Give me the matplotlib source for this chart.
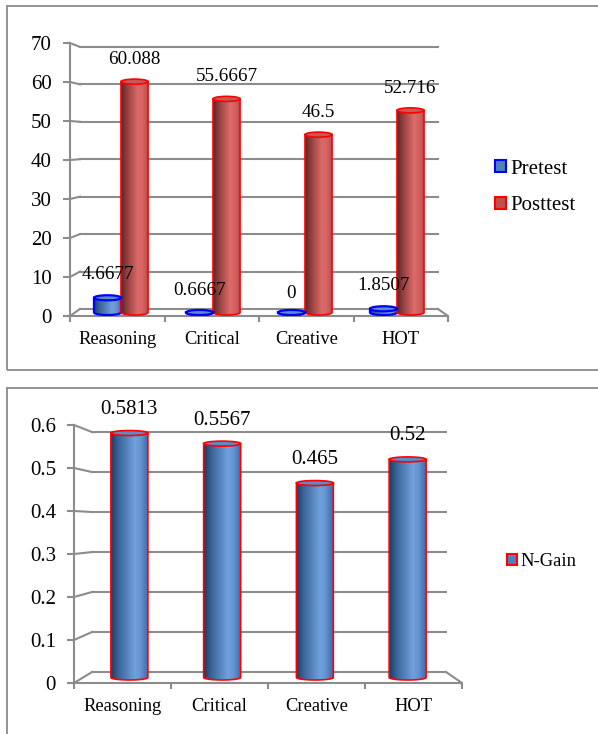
import numpy as np
import matplotlib
matplotlib.use("Agg")
import matplotlib.pyplot as plt
from matplotlib.patches import Rectangle, Ellipse, PathPatch, Patch
from matplotlib.path import Path
from matplotlib.colors import LinearSegmentedColormap

plt.rcParams['font.family'] = ['Liberation Serif', 'DejaVu Serif']

categories = ['Reasoning', 'Critical', 'Creative', 'HOT']
pretest = [4.6677, 0.6667, 0, 1.8507]
posttest = [60.088, 55.6667, 46.5, 52.716]
ngain = [0.5813, 0.5567, 0.465, 0.52]

W, H = 598, 734
fig = plt.figure(figsize=(W / 100, H / 100), dpi=100)

GRID = '#8c8c8c'
GLW = 1.5

red_cmap = LinearSegmentedColormap.from_list('red_cyl', [
    (0, '#5a2424'), (0.18, '#8c3b3b'), (0.6, '#dc6a6a'), (0.78, '#d66262'), (1, '#b44a4a')])
blue_cmap = LinearSegmentedColormap.from_list('blue_cyl', [
    (0, '#1f3a60'), (0.2, '#3a6498'), (0.65, '#70a0dc'), (0.8, '#6494d2'), (1, '#3f6ca8')])


def frac(x0, y0, x1, y1):
    # pixel box (top-left origin) -> figure fraction rect
    return [x0 / W, 1 - y1 / H, (x1 - x0) / W, (y1 - y0) / H]


# outer frames
for y0, y1 in [(6, 370), (388, 760)]:
    fig.patches.append(Rectangle((7 / W, 1 - y1 / H), (620 - 7) / W, (y1 - y0) / H,
                                 transform=fig.transFigure, facecolor='none',
                                 edgecolor='#8a8a8a', lw=1.3, zorder=-10))


def cylinders(ax, xs, values, width, base, eh, cmap, edge, top_color, lw):
    vals = np.maximum(np.asarray(values, float), base)
    bars = ax.bar(xs, vals - base, bottom=base, width=width, facecolor='none',
                  edgecolor='none', linewidth=0, zorder=3)
    grad = np.linspace(0, 1, 256).reshape(1, -1)
    t = np.linspace(np.pi, 2 * np.pi, 40)
    for b in bars:
        x0, w = b.get_x(), b.get_width()
        top = b.get_y() + b.get_height()
        xc = x0 + w / 2
        verts = [(x0, top), (x0, base)]
        verts += list(zip(xc + w / 2 * np.cos(t), base + eh / 2 * np.sin(t)))
        verts += [(x0 + w, base), (x0 + w, top), (x0, top)]
        body = PathPatch(Path(verts, closed=True), facecolor='none', edgecolor=edge,
                         lw=lw, zorder=4)
        ax.add_patch(body)
        im = ax.imshow(grad, extent=(x0, x0 + w, base - eh, top), aspect='auto',
                       cmap=cmap, interpolation='bilinear', zorder=3.5)
        im.set_clip_path(body)
        ax.add_patch(Ellipse((xc, top), w, eh, facecolor=top_color, edgecolor=edge,
                             lw=lw, zorder=4.5))


def frame3d(ax, ticks, bx0, bx1, back):
    x_lo, x_hi = -0.5, 3.5
    for v in ticks:
        ax.plot([bx0, bx1], [back(v), back(v)], color=GRID, lw=GLW, zorder=1)
        ax.plot([x_lo, bx0], [v, back(v)], color=GRID, lw=GLW, zorder=1, clip_on=False)
    ax.plot([bx1, x_hi], [back(0), 0], color=GRID, lw=GLW, zorder=1)
    ax.set_xlim(x_lo, x_hi)
    for s in ['top', 'right']:
        ax.spines[s].set_visible(False)
    for s in ['left', 'bottom']:
        ax.spines[s].set_color(GRID)
        ax.spines[s].set_linewidth(GLW)
    ax.set_xticks(range(4))
    ax.set_xticklabels(categories, fontsize=13.3)
    ax.set_xticks(np.arange(-0.5, 4, 1), minor=True)
    ax.tick_params(axis='x', which='major', length=0, pad=11)
    ax.tick_params(axis='x', which='minor', length=4, width=GLW, color=GRID)
    ax.tick_params(axis='y', length=5, width=GLW, color=GRID, labelsize=15, pad=8)
    ax.set_yticks(ticks)
    ax.patch.set_alpha(0)


def mid_x(i, bx0, bx1):
    back_c = bx0 + (i + 0.5) * (bx1 - bx0) / 4
    return (i + back_c) / 2


# ---- top chart: pretest / posttest ----
ax1 = fig.add_axes(frac(70, 43, 448, 316))
ax1.set_ylim(0, 70)
bx0, bx1 = -0.394, 3.394
back1 = lambda v: 1.8 + 0.96 * v
frame3d(ax1, list(range(0, 80, 10)), bx0, bx1, back1)
ax1.set_yticklabels([str(v) for v in range(0, 80, 10)])

xm = np.array([mid_x(i, bx0, bx1) for i in range(4)])
w1 = 0.286
base1 = back1(0) / 2
cylinders(ax1, xm - w1 / 2, pretest, w1, base1, 1.3, blue_cmap, '#0000ff', '#5b8bc8', 1.6)
cylinders(ax1, xm + w1 / 2, posttest, w1, base1, 1.3, red_cmap, '#ff0000', '#c65a58', 1.2)
ax1.set_xlim(-0.5, 3.5)
ax1.set_ylim(0, 70)

for x, v in zip(xm - w1 / 2, pretest):
    ax1.annotate(f'{v:g}', (x, v), xytext=(0, 16.5), textcoords='offset points',
                 ha='center', va='center', fontsize=13.7, zorder=6)
for x, v in zip(xm + w1 / 2, posttest):
    ax1.annotate(f'{v:g}', (x, v), xytext=(0, 16), textcoords='offset points',
                 ha='center', va='center', fontsize=13.7, zorder=6)

fig.legend(handles=[Patch(facecolor='#4f81bd', edgecolor='#0000ff', lw=1.5, label='Pretest'),
                    Patch(facecolor='#c0504d', edgecolor='#ff0000', lw=1.5, label='Posttest')],
           loc='center left', bbox_to_anchor=(495 / W, 1 - 187.5 / H), frameon=False,
           borderpad=0, borderaxespad=0, handlelength=0.53, handleheight=0.53,
           handletextpad=0.2, labelspacing=0.85, fontsize=15)

# ---- bottom chart: N-Gain ----
ax2 = fig.add_axes(frac(74, 425, 462, 683))
ax2.set_ylim(0, 0.6)
bx0, bx1 = -0.314, 3.335
back2 = lambda v: 0.0256 + 0.93 * v
ticks2 = [0, 0.1, 0.2, 0.3, 0.4, 0.5, 0.6]
frame3d(ax2, ticks2, bx0, bx1, back2)
ax2.set_yticklabels([f'{v:g}' for v in ticks2])

xm2 = np.array([mid_x(i, bx0, bx1) for i in range(4)])
w2 = 0.381
cylinders(ax2, xm2, ngain, w2, back2(0) / 2, 0.0116, blue_cmap, '#ff0000', '#5b8bc8', 1.2)
ax2.set_xlim(-0.5, 3.5)
ax2.set_ylim(0, 0.6)

for x, v in zip(xm2, ngain):
    ax2.annotate(f'{v:g}', (x, v), xytext=(0, 17), textcoords='offset points',
                 ha='center', va='center', fontsize=15, zorder=6)

fig.legend(handles=[Patch(facecolor='#4f81bd', edgecolor='#ff0000', lw=1.5, label='N-Gain')],
           loc='center left', bbox_to_anchor=(507 / W, 1 - 562 / H), frameon=False,
           borderpad=0, borderaxespad=0, handlelength=0.54, handleheight=0.54,
           handletextpad=0.16, fontsize=13.4)

fig.savefig('out.png', dpi=100)
